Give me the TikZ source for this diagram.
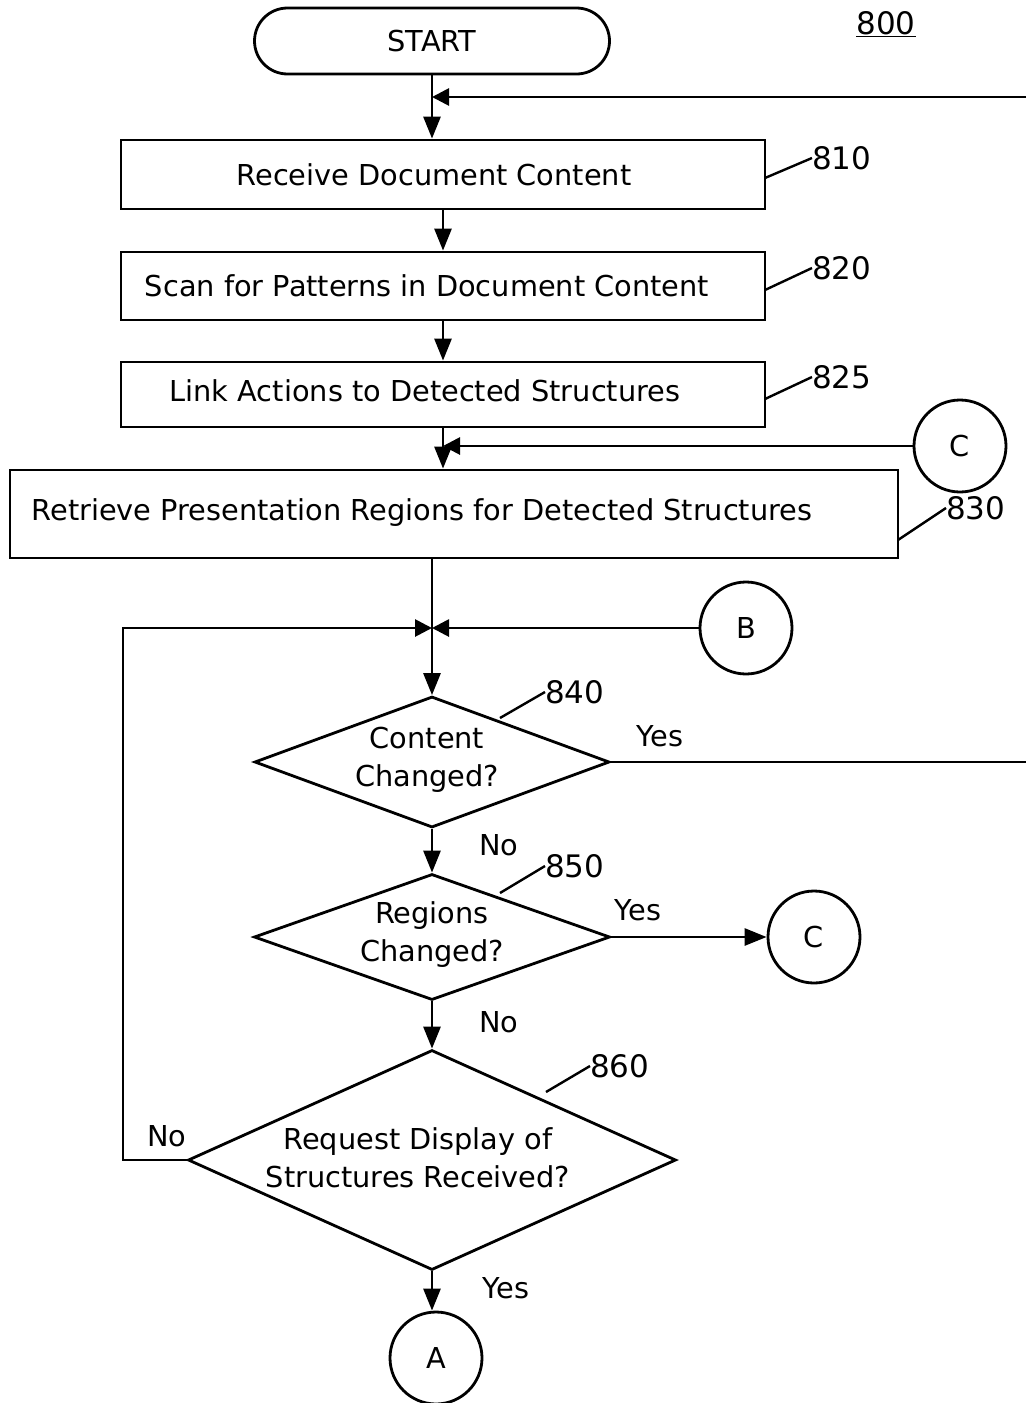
\documentclass[tikz,border=0pt]{standalone}
\usepackage{fontspec}
\setmainfont{DejaVu Sans}
\usetikzlibrary{shapes.geometric,arrows.meta}
\begin{document}
\begin{tikzpicture}[x=1pt,y=-1pt,
  every node/.style={font=\fontsize{28.8}{38}\selectfont},
  lw/.style={line width=2.8pt},
  proc/.style={draw,lw,inner sep=0pt},
  term/.style={draw,lw,rounded corners=33pt,minimum width=355pt,minimum height=66pt,inner sep=0pt},
  dec/.style={draw,lw,diamond,inner sep=0pt},
  conn/.style={draw,lw,circle,minimum size=92pt,inner sep=0pt},
  txt/.style={align=center,inner sep=0pt},
  lbl/.style={anchor=west,inner sep=0pt,font=\fontsize{31}{36}\selectfont},
  arr/.style={lw,-{Triangle[length=22pt,width=17pt]}},
  sarr/.style={lw,-{Triangle[length=17pt,width=17pt]}},
  lead/.style={line width=2.4pt}
]
\useasboundingbox (0,0) rectangle (1026,1403);

% terminal and title
\node[term] (start) at (432,41) {START};
\node[inner sep=0pt,font=\fontsize{31}{36}\selectfont] (title) at (886,24) {\underline{800}};

% process boxes
\node[proc,minimum width=644pt,minimum height=69pt] (b810) at (443,174.5) {};
\node[txt] (t810) at (434,175) {Receive Document Content};
\node[proc,minimum width=644pt,minimum height=68pt] (b820) at (443,286) {};
\node[txt] (t820) at (427,286) {Scan for Patterns in Document Content};
\node[proc,minimum width=644pt,minimum height=65pt] (b825) at (443,394.5) {};
\node[txt] (t825) at (425,391) {Link Actions to Detected Structures};
\node[proc,minimum width=888pt,minimum height=88pt] (b830) at (454,514) {};
\node[txt] (t830) at (422,513) {Retrieve Presentation Regions for Detected Structures};

% reference labels
\node[lbl] (l810) at (812,158) {810};
\node[lbl] (l820) at (812,268) {820};
\node[lbl] (l825) at (812,377) {825};
\node[lbl] (l830) at (946,508) {830};
\node[lbl] (l840) at (545,692) {840};
\node[lbl] (l850) at (545,866) {850};
\node[lbl] (l860) at (590,1066) {860};

\coordinate (a810) at (765,178);
\coordinate (a820) at (765,290);
\coordinate (a825) at (765,399);
\coordinate (a830) at (898,540);
\coordinate (a840) at (500,718);
\coordinate (a850) at (500,893);
\coordinate (a860) at (546,1092);
\draw[lead] (a810) -- (l810.west);
\draw[lead] (a820) -- (l820.west);
\draw[lead] (a825) -- (l825.west);
\draw[lead] (a830) -- (l830.west);
\draw[lead] (a840) -- (l840.west);
\draw[lead] (a850) -- (l850.west);
\draw[lead] (a860) -- (l860.west);

% decisions
\node[dec,minimum width=355pt,minimum height=131pt] (d840) at (432,762) {};
\node[txt] (t840) at (427,760) {Content\\Changed?};
\node[dec,minimum width=356pt,minimum height=126pt] (d850) at (432,937) {};
\node[txt] (t850) at (432,935) {Regions\\Changed?};
\node[dec,minimum width=488pt,minimum height=220pt] (d860) at (432,1160) {};
\node[txt] (t860) at (418,1158) {Request Display of\\Structures Received?};

% connectors (circles)
\node[conn] (cC1) at (960,446) {C};
\node[conn] (cB) at (746,628) {B};
\node[conn] (cC2) at (814,937) {C};
\node[conn] (cA) at (436,1358) {A};

% edge labels
\node[inner sep=0pt] (y840) at (660,736) {Yes};
\node[inner sep=0pt] (n840) at (499,845) {No};
\node[inner sep=0pt] (y850) at (638,910) {Yes};
\node[inner sep=0pt] (n850) at (499,1022) {No};
\node[inner sep=0pt] (n860) at (167,1136) {No};
\node[inner sep=0pt] (y860) at (506,1288) {Yes};

% junction coordinates
\coordinate (j1) at (432,97);
\coordinate (rin) at (1026,97);
\coordinate (j2) at (443,446);
\coordinate (j3) at (432,628);
\coordinate (rout) at (1026,762);
\coordinate (lc1) at (123,1160);
\coordinate (lc2) at (123,628);

% flow
\draw[arr] (start.south) -- (b810.north -| start.south);
\draw[sarr] (rin) -- (j1);
\draw[arr] (b810.south) -- (b820.north);
\draw[arr] (b820.south) -- (b825.north);
\draw[arr] (b825.south) -- (b830.north -| b825.south);
\draw[sarr] (cC1.west) -- (j2);
\draw[arr] (b830.south -| j3) -- (d840.north);
\draw[sarr] (cB.west) -- (j3);
\draw[lw] (d840.east) -- (rout);
\draw[arr] (d840.south) -- (d850.north);
\draw[arr] (d850.east) -- (cC2.west);
\draw[arr] (d850.south) -- (d860.north);
\draw[sarr] (d860.west) -- (lc1) -- (lc2) -- (j3);
\draw[arr] (d860.south) -- (d860.south |- cA.north);
\end{tikzpicture}
\end{document}
